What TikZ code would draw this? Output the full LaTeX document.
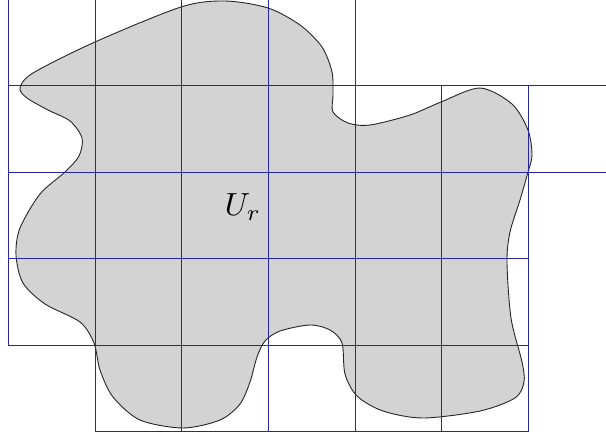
\documentclass[tikz,border=0pt]{standalone}
\definecolor{gridblue}{RGB}{38,38,165}
\definecolor{shapegray}{RGB}{211,211,211}
\tikzset{
  gridline/.style={draw=gridblue, line width=1.1pt},
  region/.style={draw=black!85, fill=shapegray, line width=0.9pt}
}
\def\xs{{8.5,95.5,181.5,268.5,355.5,441.5,528.5,614.5}}
\def\ys{{-1.5,85.5,172.5,258.5,345.5,431.5}}
\begin{document}
\begin{tikzpicture}[x=1pt,y=-1pt]
\useasboundingbox (0,0) rectangle (606,437);
\clip (0,0) rectangle (606,437);
\fill[white] (0,0) rectangle (606,437);
\draw[region] plot[smooth cycle, tension=0.5] coordinates {
 (20,88) (33,73) (95,42) (181,7) (225,1) (268,8) (300,25) (322,47)
 (332,72) (333,95) (333,112) (348,123) (370,125) (410,115) (441,102) (480,88)
 (512,104) (528,130) (532,155) (528,172) (520,200) (510,232) (507,262) (511,318)
 (522,362) (524,382) (515,398) (480,411) (423,418) (383,411) (357,396)
 (345,374) (342,343) (330,330) (310,325) (280,331) (265,341) (257,357)
 (250,382) (240,404) (220,420) (183,428) (140,420) (113,397) (100,370)
 (94,343) (80,322) (45,304) (23,283) (16,255) (20,228) (40,194) (65,172)
 (79,156) (82,138) (70,121) (48,110) (27,98)};
% vertical grid lines: column / first row line / last row line
\foreach \c/\a/\b in {0/0/4, 1/0/5, 2/0/5, 3/0/5, 4/0/5, 5/1/5, 6/1/5, 7/1/2}
  \draw[gridline] ({\xs[\c]},{\ys[\a]}) -- ({\xs[\c]},{\ys[\b]});
% horizontal grid lines: row / first column line / last column line
\foreach \r/\a/\b in {0/0/4, 1/0/7, 2/0/7, 3/0/6, 4/0/6, 5/1/6}
  \draw[gridline] ({\xs[\a]},{\ys[\r]}) -- ({\xs[\b]},{\ys[\r]});
\node (U) at (243,207) [scale=3.2, inner sep=0pt] {$U_r$};
\end{tikzpicture}
\end{document}
